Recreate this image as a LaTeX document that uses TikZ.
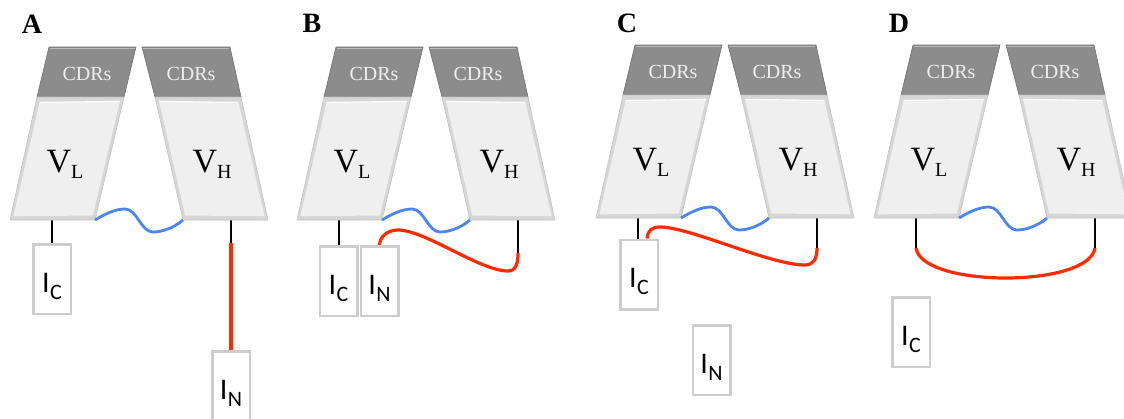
\documentclass[tikz,border=0pt]{standalone}
\usepackage{fontspec}
\setmainfont{Liberation Serif}
\newfontfamily\calib{Carlito}
\usetikzlibrary{calc,backgrounds}

\definecolor{cdrgray}{HTML}{8C8C8C}
\definecolor{cdrtext}{HTML}{EEEEEE}
\definecolor{vface}{HTML}{EFEFEF}
\definecolor{vedge}{HTML}{D6D6D6}
\definecolor{vline}{HTML}{C4C4C4}
\definecolor{linkblue}{HTML}{4A86F2}
\definecolor{linkred}{HTML}{FF2A00}
\definecolor{boxedge}{HTML}{CDCDCD}

\tikzset{
  cdrpoly/.style={fill=cdrgray, draw=cdrgray!80!black, line width=0.6pt},
  vouter/.style={fill=vedge, draw=vline, line width=0.6pt},
  vinner/.style={fill=vface},
  cdrlabel/.style={text=cdrtext, font=\fontsize{20}{20}\selectfont, inner sep=0pt, anchor=base},
  vlabel/.style={font=\fontsize{34}{34}\selectfont, inner sep=0pt, anchor=base},
  panellabel/.style={font=\bfseries\fontsize{28}{28}\selectfont, inner sep=0pt},
  ibox/.style={draw=boxedge, fill=white, line width=2.5pt, minimum width=37.5pt,
    minimum height=69.5pt, inner sep=0pt, text height=26pt, text depth=0pt,
    font=\calib\fontsize{30}{30}\selectfont},
  iframe/.style={draw=gray!70, line width=0.5pt},
  hinge/.style={draw=linkblue, line width=2.8pt},
  tether/.style={draw=linkred, line width=3.2pt},
  stub/.style={draw=black, line width=1.7pt},
}

% subscripts of the domain and fragment labels
\newcommand\vsub[1]{\raisebox{-6pt}{\fontsize{20}{20}\selectfont #1}}
\newcommand\isub[1]{\kern0.5pt\raisebox{-7pt}{\fontsize{22}{22}\selectfont #1}}

% a bevelled four-sided domain body
\newcommand\bevelquad[4]{%
  \path[vouter] #1 -- #2 -- #3 -- #4 -- cycle;
  \path[vinner] ($#1!6pt!#3$) -- ($#2!6pt!#4$) -- ($#3!5pt!#1$) -- ($#4!5pt!#2$) -- cycle;
  \draw[white, line width=1.2pt] ($#1!6pt!#3$) -- ($#2!6pt!#4$);
}

% the VL / VH pair with their CDR caps and the short blue linker
\newcommand\domainpair[3]{%
\begin{scope}[shift={(#2,#3)}]
  \path[cdrpoly] (49,47) -- (136,47) -- (124,97) -- (37,97) -- cycle;
  \path[cdrpoly] (142,47) -- (230,47) -- (241,97) -- (155,97) -- cycle;
  \draw[cdrgray!60!white, line width=1pt] (50,48.5) -- (135,48.5);
  \draw[cdrgray!60!white, line width=1pt] (143,48.5) -- (229,48.5);
  \bevelquad{(37,97)}{(124,97)}{(95,220)}{(10,220)}
  \bevelquad{(155,97)}{(241,97)}{(268,220)}{(183,220)}
  \node[cdrlabel] (#1-cl) at (87,80) {CDRs};
  \node[cdrlabel] (#1-ch) at (191,80) {CDRs};
  \node[vlabel] (#1-vl) at (65,172) {V\vsub{L}};
  \node[vlabel] (#1-vh) at (212,172) {V\vsub{H}};
  \coordinate (#1-lr) at (95,220);
  \coordinate (#1-hl) at (183,220);
  \coordinate (#1-ls) at (52,220);
  \coordinate (#1-hs) at (231,220);
  \draw[hinge] (#1-lr) .. controls (105,214) and (115,209) .. (125,209)
    .. controls (137,209) and (141,232) .. (153,232)
    .. controls (163,232) and (175,227) .. (#1-hl);
\end{scope}}

\begin{document}
\begin{tikzpicture}[x=1pt, y=-1pt]
  \useasboundingbox (0,0) rectangle (1124,418);

  % ---------------- A ----------------
  \node[panellabel] (labA) at (32,24) {A};
  \domainpair{a}{0}{0}
  \coordinate (a-hk) at (231,243);
  \node[ibox] (aIC) at (52,279) {I\isub{C}};
  \node[ibox] (aIN) at (231,386) {I\isub{N}};
  \begin{pgfonlayer}{background}
    \draw[stub] (a-ls) -- (a-ls |- aIC.north);
    \draw[stub] (a-hs) -- (a-hk);
    \draw[tether] (a-hk) -- (aIN.north);
  \end{pgfonlayer}

  % ---------------- B ----------------
  \node[panellabel] (labB) at (312,23) {B};
  \domainpair{b}{287}{0}
  \coordinate (b-hk) at (518,253);
  \node[ibox] (bIC) at (338.5,281) {I\isub{C}};
  \node[ibox] (bIN) at (379.5,281) {I\isub{N}};
  \begin{pgfonlayer}{background}
    \draw[stub] (b-ls) -- (b-ls |- bIC.north);
    \draw[stub] (b-hs) -- (b-hk);
    \draw[tether] (bIN.north) .. controls (380,236) and (388,230) .. (398,230)
      .. controls (425,230) and (480,271) .. (508,271)
      .. controls (516,271) and (518,263) .. (b-hk);
  \end{pgfonlayer}

  % ---------------- C ----------------
  \node[panellabel] (labC) at (627,23) {C};
  \domainpair{c}{586}{-2}
  \coordinate (c-hk) at (817,248);
  \node[ibox] (cIC) at (639,274.5) {I\isub{C}};
  \node[ibox] (cIN) at (711.5,360) {I\isub{N}};
  \begin{pgfonlayer}{background}
    \draw[stub] (c-ls) -- (c-ls |- cIC.north);
    \draw[stub] (c-hs) -- (c-hk);
    \draw[tether] ([xshift=8pt]cIC.north) .. controls (648,230) and (652,227) .. (660,227)
      .. controls (690,227) and (770,265) .. (805,265)
      .. controls (814,265) and (817,258) .. (c-hk);
  \end{pgfonlayer}

  % ---------------- D ----------------
  \node[panellabel] (labD) at (899,23) {D};
  \domainpair{d}{864}{-2}
  \coordinate (d-lk) at (916,248);
  \coordinate (d-hk) at (1095,248);
  \node[ibox] (dIC) at (911,332) {I\isub{C}};
  \begin{pgfonlayer}{background}
    \draw[stub] (d-ls) -- (d-lk);
    \draw[stub] (d-hs) -- (d-hk);
    \draw[tether] (d-lk) .. controls (922,288) and (1089,288) .. (d-hk);
  \end{pgfonlayer}
\end{tikzpicture}
\end{document}
